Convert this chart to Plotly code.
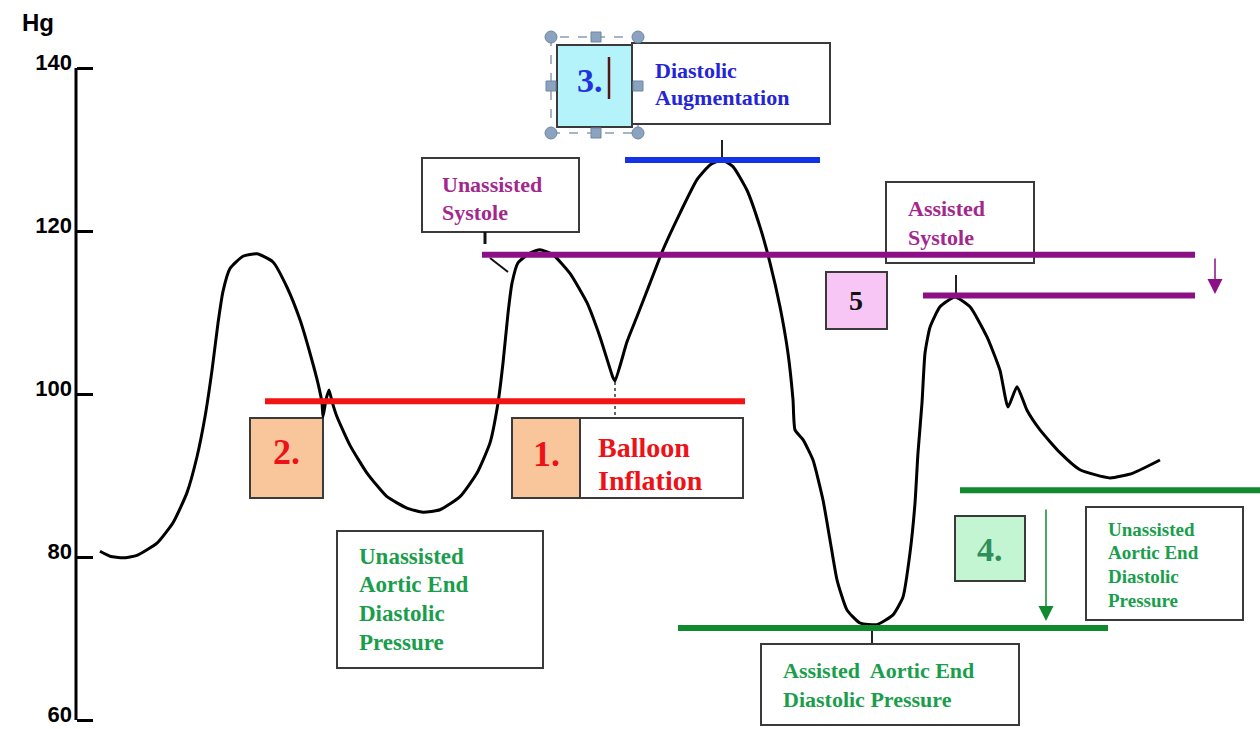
import plotly.graph_objects as go

# ---------------- data ----------------
# time axis (arbitrary units, left -> right) and arterial pressure (mmHg)
time = [100, 110, 123, 137, 157, 173, 187, 197, 205, 212,
        218, 223, 230, 243, 257, 273, 287, 300, 310, 318,
        322, 323, 326, 329, 332, 337, 350, 367, 387, 407,
        423, 440, 460, 477, 490, 498, 503, 508, 512, 518,
        530, 540, 553, 570, 587, 600, 613, 615, 627, 637,
        650, 663, 680, 697, 710, 722, 733, 747, 760, 770,
        780, 788, 793, 795, 803, 813, 823, 830, 837, 847,
        860, 877, 893, 903, 910, 915, 918, 922, 925, 930,
        940, 955, 970, 987, 1000, 1008, 1017, 1027, 1040, 1060,
        1080, 1110, 1133, 1160]
pressure = [80.7, 80.1, 79.9, 80.2, 81.7, 84.2, 87.9, 92.3, 97.2, 102.9,
            108.7, 112.6, 115.4, 116.9, 117.2, 116.2, 113.1, 109.1, 105.0, 101.3,
            98.9, 97.2, 99.3, 100.5, 99.1, 97.2, 93.7, 90.3, 87.4, 86.0,
            85.5, 85.8, 87.4, 90.3, 94.0, 98.9, 103.8, 109.9, 113.6, 116.1,
            117.3, 117.7, 117.1, 114.8, 111.2, 107.0, 102.0, 101.6, 106.4, 109.5,
            113.6, 117.7, 122.2, 126.3, 128.1, 128.7, 127.9, 125.0, 120.5, 116.1,
            110.7, 105.0, 99.3, 95.6, 94.4, 91.9, 87.0, 82.1, 77.2, 73.5,
            71.9, 71.7, 72.9, 75.1, 80.5, 86.6, 92.8, 98.9, 105.0, 108.2,
            110.7, 111.9, 110.7, 107.0, 102.9, 98.4, 100.9, 98.0, 95.6, 92.8,
            90.7, 89.7, 90.3, 91.9]

# reference levels (mmHg) and their extent along the time axis
level_names = ["Balloon inflation", "Diastolic augmentation", "Unassisted systole",
               "Assisted systole", "Unassisted aortic end diastolic",
               "Assisted aortic end diastolic"]
level_values = [99.1, 128.7, 117.1, 112.1, 88.2, 71.3]
level_start = [265, 625, 482, 923, 960, 678]
level_end = [745, 820, 1195, 1195, 1262, 1108]
level_colors = ["#f01414", "#1433e6", "#8c0f86", "#8c0f86", "#0f8a2e", "#0f8a2e"]

y_ticks = [60, 80, 100, 120, 140]
y_tick_labels = ["60", "80", "100", "120", "140"]

# ---------------- geometry helpers (layout only) ----------------
W, H = 1260, 729
PX_PER_MMHG = 8.15
TOP_PX = 68  # pixel row of 140 mmHg


def vy(py):
    """pixel row -> mmHg, used only to place boxes/labels."""
    return 140 - (py - TOP_PX) / PX_PER_MMHG


fig = go.Figure()

# waveform
fig.add_trace(go.Scatter(x=time, y=pressure, mode="lines",
                         line=dict(color="black", width=3, shape="spline", smoothing=0.5),
                         hoverinfo="skip", showlegend=False))

# reference level lines
for name, v, x0, x1, c in zip(level_names, level_values, level_start, level_end, level_colors):
    fig.add_trace(go.Scatter(x=[x0, x1], y=[v, v], mode="lines", name=name,
                             line=dict(color=c, width=6), hoverinfo="skip", showlegend=False))

shapes = []
BORDER = "#3a3a3a"


def rect(x0, y0, x1, y1, fill="white", line=BORDER, width=2, dash="solid"):
    shapes.append(dict(type="rect", xref="x", yref="y", x0=x0, x1=x1, y0=vy(y1), y1=vy(y0),
                       fillcolor=fill, line=dict(color=line, width=width, dash=dash),
                       layer="below"))


def seg(x0, y0, x1, y1, color="black", width=2, dash="solid"):
    shapes.append(dict(type="line", xref="x", yref="y", x0=x0, x1=x1, y0=vy(y0), y1=vy(y1),
                       line=dict(color=color, width=width, dash=dash), layer="below"))


# y axis line
shapes.append(dict(type="line", xref="x", yref="y", x0=76, x1=76, y0=60, y1=140,
                   line=dict(color="black", width=3), layer="below"))

# selection frame around box 3
rect(551, 37, 638, 133, fill="rgba(0,0,0,0)", line="#8a9db5", width=1.5, dash="dash")

# boxes
rect(422, 158, 579, 232)                       # unassisted systole
rect(557, 45, 632, 127, fill="#b4f3fa")        # 3.
rect(632, 43, 830, 124)                        # diastolic augmentation
rect(886, 182, 1034, 263)                      # assisted systole
rect(826, 272, 887, 329, fill="#f7c6f5")       # 5
rect(250, 418, 323, 498, fill="#f9c69c")       # 2.
rect(512, 418, 580, 498, fill="#f9c69c")       # 1.
rect(580, 418, 743, 498)                       # balloon inflation
rect(337, 531, 543, 668)                       # unassisted AEDP (left)
rect(761, 644, 1019, 725)                      # assisted AEDP
rect(955, 516, 1025, 581, fill="#c4f5d2")      # 4.
rect(1086, 507, 1243, 620)                     # unassisted AEDP (right)

# selection handles
for cx, cy in [(551, 37), (638, 37), (551, 133), (638, 133)]:
    shapes.append(dict(type="circle", xref="x", yref="y", x0=cx - 6, x1=cx + 6,
                       y0=vy(cy + 6), y1=vy(cy - 6), fillcolor="#8ba3bf",
                       line=dict(color="#6d87a6", width=1), layer="below"))
for cx, cy in [(596, 37), (596, 133), (551, 86), (638, 86)]:
    shapes.append(dict(type="rect", xref="x", yref="y", x0=cx - 5, x1=cx + 5,
                       y0=vy(cy + 5), y1=vy(cy - 5), fillcolor="#8ba3bf",
                       line=dict(color="#6d87a6", width=1), layer="below"))

# text cursor in box 3
seg(609, 57, 609, 99, color="#5a1414", width=2.5)

# leader ticks
seg(722, 140, 722, 158, color="#222222", width=2)
seg(956, 275, 956, 293, color="#222222", width=2)
seg(872, 631, 872, 643, color="#222222", width=2)
seg(485, 232, 485, 244, color="#111111", width=3)
seg(490, 258, 508, 272, color="#111111", width=2)
seg(615, 382, 615, 417, color="#333333", width=1.5, dash="dot")

SERIF = "Liberation Serif, Times New Roman, serif"
ann = []


def text(t, x, py, size, color, anchor="left"):
    ann.append(dict(text="<b>%s</b>" % t, x=x, y=vy(py), xref="x", yref="y",
                    xanchor=anchor, yanchor="middle", showarrow=False,
                    font=dict(family=SERIF, size=size, color=color)))


BLUE_T = "#2424d8"
PURP_T = "#a3288e"
RED_T = "#ec1218"
GREEN_T = "#1a9e4c"

text("Diastolic", 653, 70, 22, BLUE_T)
text("Augmentation", 653, 97, 22, BLUE_T)
text("Unassisted", 440, 184, 22, PURP_T)
text("Systole", 440, 212, 22, PURP_T)
text("Assisted", 906, 208, 22, PURP_T)
text("Systole", 906, 237, 22, PURP_T)
text("Balloon", 596, 447, 28, RED_T)
text("Inflation", 596, 480, 28, RED_T)
for t, py in zip(["Unassisted", "Aortic End", "Diastolic", "Pressure"], [556, 584, 613, 642]):
    text(t, 357, py, 23, GREEN_T)
text("Assisted\u00a0 Aortic End", 781, 670, 22, GREEN_T)
text("Diastolic Pressure", 781, 699, 22, GREEN_T)
for t, py in zip(["Unassisted", "Aortic End", "Diastolic", "Pressure"], [529, 552, 576, 600]):
    text(t, 1106, py, 19, GREEN_T)

text("3.", 590, 80, 34, "#2233dd", anchor="center")
text("2.", 286, 452, 36, RED_T, anchor="center")
text("1.", 546, 454, 36, RED_T, anchor="center")
text("4.", 990, 549, 34, "#2f8f5c", anchor="center")
text("5", 856, 300, 28, "#111111", anchor="center")

# axis unit label
ann.append(dict(text="<b>Hg</b>", x=38, y=vy(22), xref="x", yref="y", showarrow=False,
                xanchor="center", yanchor="middle",
                font=dict(family="Liberation Sans, Arial, sans-serif", size=24, color="black")))

# arrows
ann.append(dict(text="", x=1215, y=vy(294), ax=1215, ay=vy(257), xref="x", yref="y",
                axref="x", ayref="y", showarrow=True, arrowhead=2, arrowsize=2,
                arrowwidth=1.5, arrowcolor="#8c0f86"))
ann.append(dict(text="", x=1046, y=vy(621), ax=1046, ay=vy(508), xref="x", yref="y",
                axref="x", ayref="y", showarrow=True, arrowhead=2, arrowsize=2,
                arrowwidth=1.5, arrowcolor="#0f8a2e"))

fig.update_layout(
    width=W, height=H, autosize=False,
    margin=dict(l=0, r=0, t=0, b=0, pad=0),
    paper_bgcolor="white", plot_bgcolor="white",
    showlegend=False,
    shapes=shapes, annotations=ann,
    xaxis=dict(range=[0, W], domain=[0, 1], visible=False, fixedrange=True),
    yaxis=dict(range=[vy(H), vy(0)], domain=[0, 1], anchor="free", position=76 / W,
               tickvals=y_ticks, ticktext=y_tick_labels, ticks="inside", ticklen=16,
               tickwidth=3, tickcolor="black", showline=False, showgrid=False,
               zeroline=False, automargin=False, fixedrange=True, ticklabelstandoff=4,
               ticklabeloverflow="allow", ticklabelshift=-6,
               tickfont=dict(family="Liberation Sans, Arial, sans-serif", size=22,
                             color="black", weight="bold")),
)

fig.write_html("out.html", config={"displayModeBar": False},
               post_script="document.body.style.margin='0';")
